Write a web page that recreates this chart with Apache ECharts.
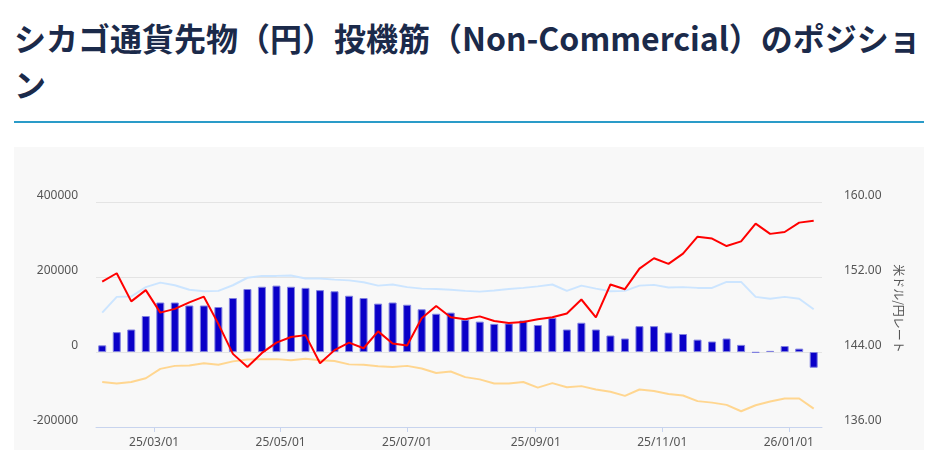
<!DOCTYPE html>
<html>
<head>
<meta charset="utf-8">
<title></title>
<style>
  body{margin:0;background:#fff;font-family:"Noto Sans CJK JP","Noto Sans",sans-serif;}
  h1{margin:0;position:absolute;left:14px;top:14px;width:912px;font-size:32px;line-height:46px;color:#1b2a4a;font-weight:bold;}
  #line{position:absolute;left:14px;top:121px;width:910px;height:2px;background:#2a9bc8;}
  #main{position:absolute;left:14px;top:147px;width:910px;height:303px;background:#f8f8f8;}
</style>
</head>
<body>
<h1>シカゴ通貨先物（円）投機筋（Non-Commercial）のポジション</h1>
<div id="line"></div>
<div id="main"></div>
<script src="https://cdn.jsdelivr.net/npm/echarts@6/dist/echarts.min.js"></script>
<script>
// 週次データ（2025/02/04〜2026/01/13）
var start = Date.UTC(2025,1,4);
var weeks = 50;
var dates = [];
for (var i=0;i<weeks;i++) dates.push(start + i*7*86400000);

var net = [17800,53000,60000,96000,132000,132000,124000,124000,120000,144000,168000,174000,177000,174000,171000,165000,162000,150000,144000,129000,132000,126000,114000,102000,105000,
  86000,81000,75000,76000,84000,72000,91000,60000,78000,60000,44000,36000,69000,69000,52000,48000,33000,28000,36000,19000,-2000,3000,16000,9000,-42000];
var longPos = [105000,147000,148000,173000,185000,178000,166000,162000,163000,178000,198000,203000,203000,204000,196000,196000,193000,191000,186000,177000,180000,173000,169000,168000,166000,
  163000,161000,164000,168000,171000,175000,180000,163000,177000,169000,162000,163000,177000,179000,172000,173000,171000,171000,187000,187000,147000,142000,147000,142000,114000];
var shortPos = [-80000,-84000,-80000,-70000,-45000,-37000,-36000,-30000,-34000,-25000,-20000,-19000,-19000,-22000,-18000,-22000,-24000,-33000,-34000,-38000,-40000,-37000,-44000,-56000,-52000,
  -67000,-73000,-84000,-84000,-80000,-95000,-83000,-94000,-91000,-100000,-106000,-117000,-100000,-104000,-112000,-116000,-131000,-135000,-141000,-158000,-142000,-132000,-124000,-124000,-151000];
var usdjpy = [151.5,152.4,149.4,150.6,148.2,148.6,149.3,149.9,147.0,143.8,142.4,143.9,145.0,145.6,145.8,142.8,144.2,145.0,144.4,146.2,144.9,144.7,147.6,148.9,147.7,
  147.5,147.8,147.3,147.1,147.2,147.5,147.7,148.1,149.6,147.7,151.2,150.7,152.9,154.0,153.4,154.5,156.3,156.1,155.3,155.8,157.7,156.6,156.8,157.8,158.0];
var xTicks = [Date.UTC(2025,2,1),Date.UTC(2025,4,1),Date.UTC(2025,6,1),Date.UTC(2025,8,1),Date.UTC(2025,10,1),Date.UTC(2026,0,1)];
var leftTicks = [-200000,0,200000,400000];
var rightTicks = [136,144,152,160];

function pair(arr){ return arr.map(function(v,i){ return [dates[i],v]; }); }

var chart = echarts.init(document.getElementById('main'));
var lab = {color:'#555',fontSize:12,fontFamily:'Noto Sans'};
chart.setOption({
  animation:false,
  grid:{left:82,right:102,top:43,bottom:23},
  xAxis:{
    type:'value',
    min:Date.UTC(2025,1,1), max:Date.UTC(2026,0,17),
    axisLine:{show:true,onZero:false,lineStyle:{color:'#c8d4ee'}},
    axisTick:{show:true,customValues:xTicks,lineStyle:{color:'#c8d4ee'}},
    splitLine:{show:false},
    axisLabel:Object.assign({customValues:xTicks, margin:10, formatter:function(v){
      var d=new Date(v); var y=String(d.getUTCFullYear()).slice(2);
      var m=('0'+(d.getUTCMonth()+1)).slice(-2); var dd=('0'+d.getUTCDate()).slice(-2);
      return y+'/'+m+'/'+dd;}}, lab)
  },
  yAxis:[{
    type:'value', min:-200000, max:432000,
    axisLine:{show:false},
    axisLabel:Object.assign({customValues:leftTicks, margin:18, verticalAlign:'bottom', formatter:function(v){return String(v);}}, lab),
    splitLine:{show:true,lineStyle:{color:'#e4e4e4'}},
    axisTick:{show:false,customValues:leftTicks}
  },{
    type:'value', min:136, max:161.28,
    name:'米ドル/円レート', nameLocation:'middle', nameRotate:-90, nameGap:70,
    nameTextStyle:{color:'#555',fontSize:12,fontFamily:'Noto Sans CJK JP'},
    axisLine:{show:false},
    axisLabel:Object.assign({customValues:rightTicks, margin:22, verticalAlign:'bottom', formatter:function(v){return v.toFixed(2);}}, lab),
    splitLine:{show:false},
    axisTick:{show:false,customValues:rightTicks}
  }],
  series:[
    {type:'bar', data:pair(net), barWidth:8, itemStyle:{color:'#0a00c8',borderColor:'#8080e0',borderWidth:1}},
    {type:'line', data:pair(longPos), symbol:'none', lineStyle:{color:'#cce5ff',width:2}},
    {type:'line', data:pair(shortPos), symbol:'none', lineStyle:{color:'#ffd690',width:2}},
    {type:'line', yAxisIndex:1, data:pair(usdjpy), symbol:'none', lineStyle:{color:'#ff0000',width:2}}
  ]
});
</script>
</body>
</html>
